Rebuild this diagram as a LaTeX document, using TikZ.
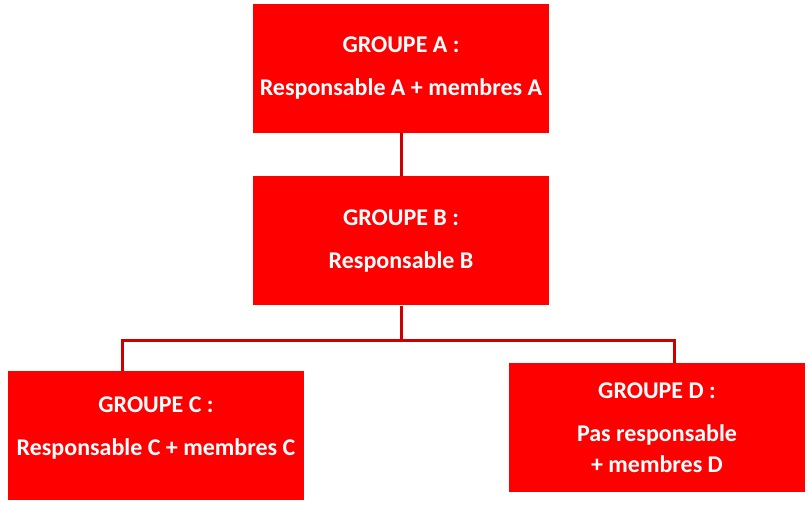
\documentclass[tikz,border=0pt]{standalone}
\usepackage{fontspec}
\setmainfont{Carlito}
\usepackage{tikz}
\usetikzlibrary{positioning}

\begin{document}
\begin{tikzpicture}[
    x=1pt, y=1pt,
    node distance=43pt,
    groupbox/.style={fill=red, text=white, font=\bfseries\fontsize{24}{31}\selectfont,
                     minimum width=296pt, minimum height=129pt, align=center,
                     inner sep=0pt},
    link/.style={draw=red!80!black, line width=3pt},
]
    \useasboundingbox (0,0) rectangle (807,-506);

    % Groups
    \node[groupbox] (groupA) at (401,-68.5) {GROUPE A :\\[12pt] Responsable A + membres A};
    \node[groupbox, below=of groupA] (groupB) {GROUPE B :\\[12pt] Responsable B};
    \node[groupbox] (groupC) at (156,-435.5) {GROUPE C :\\[12pt] Responsable C + membres C\\[-12pt]\mbox{}};
    \node[groupbox] (groupD) at (657,-427.5) {GROUPE D :\\[12pt] Pas responsable\\ + membres D};

    % Links
    \draw[link] (groupA.south) -- (groupB.north);
    \draw[link] (groupB.south) -- ++(0,-35) coordinate (split);
    \draw[link] (split) -| ([xshift=-34pt]groupC.north);
    \draw[link] (split) -| ([xshift=17pt]groupD.north);
\end{tikzpicture}
\end{document}
